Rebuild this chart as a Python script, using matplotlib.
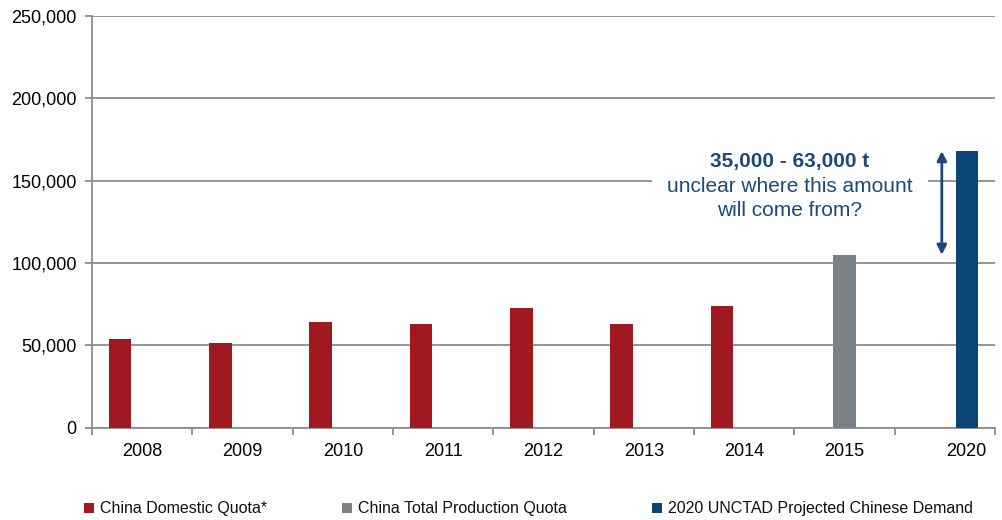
import matplotlib.pyplot as plt
from matplotlib.patches import Rectangle
from matplotlib.ticker import FuncFormatter

plt.rcParams['font.family'] = ['Liberation Sans', 'DejaVu Sans']

# data
years = ['2008', '2009', '2010', '2011', '2012', '2013', '2014', '2015', '2020']
domestic_quota = [53700, 51400, 64400, 63000, 72700, 63000, 73900, None, None]
production_quota = [None, None, None, None, None, None, None, 105000, None]
projected_demand = [None, None, None, None, None, None, None, None, 168000]
series_names = ['China Domestic Quota*', 'China Total Production Quota',
                '2020 UNCTAD Projected Chinese Demand']
colors = ['#a01820', '#7c8188', '#0b4576']
gap_min, gap_max = 35000, 63000

fig = plt.figure(figsize=(10.03, 5.2), dpi=100)
ax = fig.add_axes([92 / 1003, (520 - 427.7) / 520, (995 - 92) / 1003, 411.7 / 520])

width = 0.225
offsets = [-0.22, 0, 0.22]
for vals, off, col in zip([domestic_quota, production_quota, projected_demand], offsets, colors):
    xs = [i + off for i, v in enumerate(vals) if v is not None]
    hs = [v for v in vals if v is not None]
    ax.bar(xs, hs, width=width, color=col, zorder=3)

ax.set_xlim(-0.5, len(years) - 0.5)
ax.set_ylim(0, 250000)
ax.set_yticks(range(0, 250001, 50000))
ax.yaxis.set_major_formatter(FuncFormatter(lambda v, p: f'{int(v):,}'))
ax.grid(axis='y', color='#8c8c8c', linewidth=1.3, zorder=0)
ax.set_axisbelow(True)

# labels at category centres, last label nudged right like the original
label_pos = [i for i in range(len(years))]
label_pos[-1] += 0.21
ax.set_xticks(label_pos)
ax.set_xticklabels(years)
ax.set_xticks([i - 0.5 for i in range(len(years) + 1)], minor=True)
ax.tick_params(axis='x', which='major', length=0, labelsize=13, pad=11)
ax.tick_params(axis='x', which='minor', length=5, width=1.3, color='#8c8c8c')
ax.tick_params(axis='y', length=5, width=1.3, color='#8c8c8c', labelsize=13, pad=6)

for s in ['top', 'right']:
    ax.spines[s].set_visible(False)
for s in ['left', 'bottom']:
    ax.spines[s].set_color('#8c8c8c')
    ax.spines[s].set_linewidth(1.3)

# annotation: arrow spans the gap between 2015 quota and 2020 demand
txt_col = '#1b4a7a'
ax.annotate('', xy=(7.97, projected_demand[-1]), xytext=(7.97, production_quota[-2]),
            arrowprops=dict(arrowstyle='<|-|>', color=txt_col, lw=2, mutation_scale=14,
                            shrinkA=0, shrinkB=0), zorder=5)
ax.text(6.457, 161500, f'{gap_min:,} - {gap_max:,} t',
        ha='center', va='center', fontsize=15, fontweight='bold', color=txt_col, zorder=6)
ax.text(6.457, 146300, 'unclear where this amount', ha='center', va='center', fontsize=15,
        color=txt_col, zorder=4,
        bbox=dict(boxstyle='square,pad=0.75', facecolor='white', edgecolor='none'))
ax.text(6.457, 131600, 'will come from?', ha='center', va='center', fontsize=15,
        color=txt_col, zorder=6)

# legend
leg_x = [84, 342, 652]
for x, name, col in zip(leg_x, series_names, colors):
    fig.patches.append(Rectangle((x / 1003, (520 - 513) / 520), 10 / 1003, 10 / 520,
                                 transform=fig.transFigure, facecolor=col, edgecolor='none'))
    fig.text((x + 16) / 1003, (520 - 508) / 520, name, ha='left', va='center', fontsize=11.5,
             color='#111111')

fig.savefig('out.png', dpi=100)
